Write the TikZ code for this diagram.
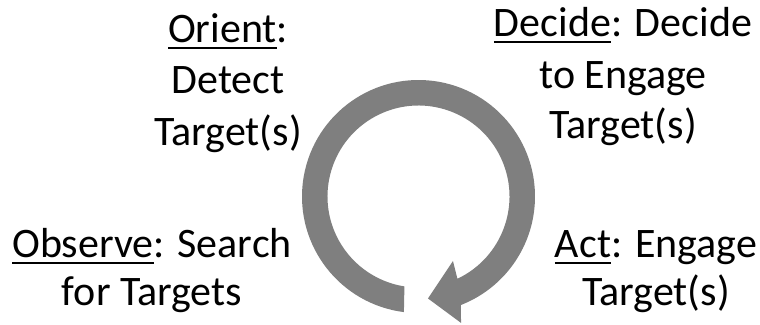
\documentclass[tikz,border=0pt]{standalone}
\usepackage{fontspec}
\setmainfont{Carlito}
\definecolor{ringgray}{HTML}{7F7F7F}
% underline a word with a rule set just below the baseline
\newcommand\ulword[1]{\setbox0\hbox{#1}\rlap{\rule[-6.5pt]{\wd0}{2pt}}\box0}

\begin{document}
\begin{tikzpicture}[x=1pt,y=-1pt,
  lbl/.style={anchor=base, inner sep=0pt, font=\fontsize{42}{50}\selectfont}]
\useasboundingbox (0,0) rectangle (760,324);

% circular arrow of the loop (angles run clockwise on the page)
\begin{scope}[shift={(418.5,196.5)}]
  \coordinate (tailout) at (97.2:116.5);
  \coordinate (barblow) at (71.4:133.4);
  \coordinate (tip)     at (84.7:102.4);
  \coordinate (barbup)  at (61.9:73.1);
  \coordinate (neckin)  at (64.7:91);
  \fill[ringgray] (tailout) arc[start angle=97.2, end angle=428.7, radius=116.5]
    -- (barblow) -- (tip) -- (barbup) -- (neckin)
    arc[start angle=424.7, end angle=98.9, radius=91] -- cycle;
\end{scope}

% Orient
\node[lbl] (orient1) at (228,42)  {\ulword{Orient}:};
\node[lbl] (orient2) at (228,93)  {Detect};
\node[lbl] (orient3) at (228,145) {Target(s)};

% Decide
\node[lbl] (decide1) at (623,36)  {\ulword{Decide}: Decide};
\node[lbl] (decide2) at (623,88)  {to Engage};
\node[lbl] (decide3) at (623,138) {Target(s)};

% Observe
\node[lbl] (observe1) at (152,257) {\ulword{Observe}: Search};
\node[lbl] (observe2) at (152,305) {for Targets};

% Act
\node[lbl] (act1) at (656,257) {\ulword{Act}: Engage};
\node[lbl] (act2) at (656,305) {Target(s)};
\end{tikzpicture}
\end{document}
